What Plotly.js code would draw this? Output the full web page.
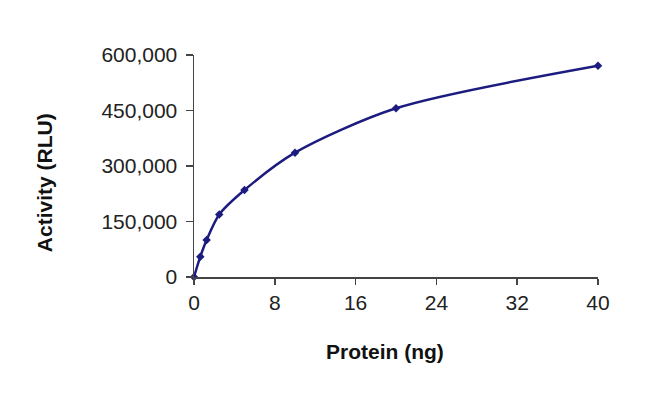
<!DOCTYPE html>
<html>
<head>
<meta charset="utf-8">
<script src="https://cdn.plot.ly/plotly-3.0.1.min.js"></script>
<style>html,body{margin:0;padding:0;background:#fff;}</style>
</head>
<body>
<div id="chart" style="width:650px;height:408px;"></div>
<script>
const proteinNg = [0, 0.625, 1.25, 2.5, 5, 10, 20, 40];
const activityRLU = [0, 55000, 100000, 169000, 235000, 336000, 456000, 571000];
const xTickValues = [0, 8, 16, 24, 32, 40];
const yTickValues = [0, 150000, 300000, 450000, 600000];
const xTitle = 'Protein (ng)';
const yTitle = 'Activity (RLU)';

const trace = {
  x: proteinNg,
  y: activityRLU,
  type: 'scatter',
  mode: 'lines+markers',
  line: {color: '#1c1c80', width: 2.5, shape: 'spline', smoothing: 0.8},
  marker: {symbol: 'diamond', size: 6.5, color: '#1c1c80'},
  cliponaxis: false,
  hoverinfo: 'none'
};

const axisFont = {family: 'Liberation Sans, Arial, sans-serif', size: 21, color: '#222'};
const titleFont = {family: 'Liberation Sans, Arial, sans-serif', size: 21, color: '#111'};

const layout = {
  width: 650, height: 408,
  margin: {l: 194, r: 52, t: 55, b: 131},
  paper_bgcolor: '#fff', plot_bgcolor: '#fff',
  showlegend: false,
  separators: '.,',
  xaxis: {
    range: [0, 40], tickvals: xTickValues, ticktext: xTickValues.map(String),
    showgrid: false, zeroline: false, showline: true, linecolor: '#444', linewidth: 1.5,
    ticks: 'outside', ticklen: 6, tickcolor: '#444', tickwidth: 1.5,
    tickfont: axisFont
  },
  yaxis: {
    range: [0, 600000], tickvals: yTickValues, tickformat: ',d',
    showgrid: false, zeroline: false, showline: true, linecolor: '#444', linewidth: 1.5,
    ticks: 'outside', ticklen: 7, tickcolor: '#444', tickwidth: 1.5,
    tickfont: axisFont, ticklabelstandoff: 4
  },
  annotations: [
    {text: '<b>' + xTitle + '</b>', xref: 'paper', yref: 'paper', x: 0.474, y: -0.335,
     xanchor: 'center', yanchor: 'middle', showarrow: false, font: titleFont},
    {text: '<b>' + yTitle + '</b>', xref: 'paper', yref: 'paper', x: -0.371, y: 0.423,
     xanchor: 'center', yanchor: 'middle', textangle: -90, showarrow: false, font: titleFont}
  ]
};

Plotly.newPlot('chart', [trace], layout, {staticPlot: true, displayModeBar: false});
</script>
</body>
</html>
